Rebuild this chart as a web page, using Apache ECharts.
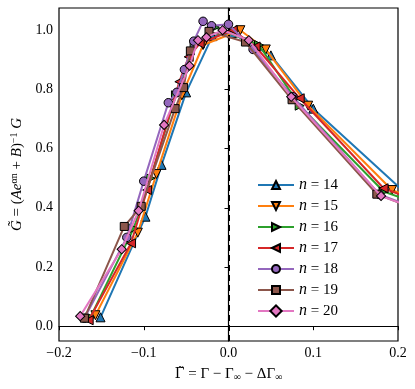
<!DOCTYPE html>
<html><head><meta charset="utf-8">
<script src="https://cdn.jsdelivr.net/npm/echarts@6/dist/echarts.min.js"></script>
<style>html,body{margin:0;padding:0;background:#fff}#c{width:415px;height:389px}</style>
</head><body><div id="c"></div>
<script>
const names = ['14','15','16','17','18','19','20'];
const colors = ['#1f77b4','#ff7f0e','#2ca02c','#d62728','#9467bd','#8c564b','#e377c2'];
const x14 = [-0.151,-0.098,-0.079,-0.050,-0.019,0.004,0.050,0.100,0.205,0.290];
const y14 = [0.030,0.370,0.545,0.790,0.980,0.990,0.915,0.735,0.460,0.365];
const x15 = [-0.157,-0.107,-0.085,-0.055,-0.030,0.014,0.044,0.094,0.193,0.290];
const y15 = [0.037,0.316,0.514,0.780,0.950,1.000,0.935,0.745,0.460,0.353];
const x16 = [-0.163,-0.112,-0.092,-0.062,-0.040,-0.016,0.036,0.084,0.183,0.285];
const y16 = [0.030,0.330,0.500,0.780,0.950,1.010,0.950,0.745,0.455,0.350];
const x17 = [-0.165,-0.115,-0.096,-0.058,-0.047,-0.034,0.005,0.032,0.084,0.183,0.285];
const y17 = [0.020,0.280,0.460,0.826,0.910,0.955,1.000,0.945,0.770,0.466,0.355];
const x18 = [-0.170,-0.120,-0.100,-0.071,-0.061,-0.052,-0.041,-0.030,-0.020,0.000,0.029,0.076,0.178,0.280];
const y18 = [0.027,0.300,0.490,0.755,0.790,0.867,0.963,1.030,1.015,1.020,0.935,0.775,0.445,0.335];
const x19 = [-0.170,-0.123,-0.103,-0.063,-0.053,-0.045,-0.023,0.020,0.075,0.175,0.280];
const y19 = [0.027,0.337,0.405,0.735,0.806,0.930,0.996,0.960,0.765,0.446,0.330];
const x20 = [-0.175,-0.126,-0.106,-0.076,-0.046,-0.036,-0.026,-0.007,0.024,0.074,0.180,0.280];
const y20 = [0.034,0.260,0.390,0.680,0.880,0.966,0.976,1.000,0.966,0.775,0.440,0.335];
const xTicks = [-0.2,-0.1,0.0,0.1,0.2];
const yTicks = [0.0,0.2,0.4,0.6,0.8,1.0];

const xs = [x14,x15,x16,x17,x18,x19,x20];
const ys = [y14,y15,y16,y17,y18,y19,y20];
const symbols = ['triangle','triangle','triangle','triangle','circle','rect','rect'];
const rots = [0,180,-90,90,0,0,45];
const sizes = [9,9,9,9,8.5,8,6.5];
const serif = 'Liberation Serif';

const series = names.map((n,i)=>({
  name: n, type:'line', clip:true,
  data: xs[i].map((x,j)=>[x, ys[i][j]]),
  symbol: symbols[i], symbolRotate: rots[i], symbolSize: sizes[i],
  showAllSymbol: true,
  lineStyle:{color:colors[i], width:2},
  itemStyle:{color:colors[i], borderColor:'#000', borderWidth:1},
  z: 3+i
}));
series.push({
  type:'line', data:[], silent:true,
  markLine:{silent:true, symbol:'none', label:{show:false},
    lineStyle:{type:[6,4], color:'#000', width:2},
    data:[{xAxis:0}]},
  z: 2
});

const fmt = v => (v<0?'\u2212':'') + Math.abs(v).toFixed(1);
const chart = echarts.init(document.getElementById('c'), null, {renderer:'canvas'});
chart.setOption({
  animation:false,
  backgroundColor:'#fff',
  grid:{left:59, right:17, top:8, bottom:48, show:true, borderColor:'#000', borderWidth:1.2, backgroundColor:'transparent'},
  xAxis:{type:'value', min:-0.2, max:0.2, interval:0.1,
    axisLine:{show:true, lineStyle:{color:'#000', width:1.2}},
    axisTick:{show:true, inside:false, length:4, lineStyle:{color:'#000'}, customValues:xTicks},
    axisLabel:{color:'#000', fontFamily:serif, fontSize:14, margin:5, customValues:xTicks, formatter:fmt},
    splitLine:{show:false},
    name:'{t|Γ̃} {m|= Γ − Γ}{s|∞}{m| − ΔΓ}{s|∞}', nameLocation:'middle', nameGap:25,
    nameTextStyle:{color:'#000', fontFamily:serif, fontSize:15,
      rich:{t:{fontFamily:'DejaVu Serif',fontSize:14,color:'#000'}, m:{fontFamily:serif,fontSize:15,color:'#000'},
            s:{fontFamily:serif,fontSize:10,color:'#000', verticalAlign:'bottom', padding:[6,0,0,0]}}}
  },
  yAxis:{type:'value', min:-0.05, max:1.075,
    axisLine:{show:true, lineStyle:{color:'#000', width:1.2}},
    axisTick:{show:true, inside:false, length:4, lineStyle:{color:'#000'}, customValues:yTicks},
    axisLabel:{color:'#000', fontFamily:serif, fontSize:14, margin:6, customValues:yTicks, formatter:v=>v.toFixed(1)},
    splitLine:{show:false},
    name:'{i|G̃} = ({i|Ae}{sup|αn} + {i|B}){sup|−1} {i|G}', nameLocation:'middle', nameGap:33, nameRotate:90,
    nameTextStyle:{color:'#000', fontFamily:serif, fontSize:15,
      rich:{i:{fontFamily:serif,fontStyle:'italic',fontSize:15,color:'#000'},
            sup:{fontFamily:serif,fontSize:10,color:'#000', verticalAlign:'top', padding:[0,0,6,0]}}}
  },
  legend:{orient:'vertical', left:252, top:172, itemWidth:36, itemHeight:10, itemGap:5,
    data:names,
    formatter: n => '{i|n} = ' + n,
    textStyle:{color:'#000', fontFamily:serif, fontSize:15,
      rich:{i:{fontFamily:serif, fontStyle:'italic', fontSize:16, color:'#000'}}}
  },
  series
});
</script></body></html>
